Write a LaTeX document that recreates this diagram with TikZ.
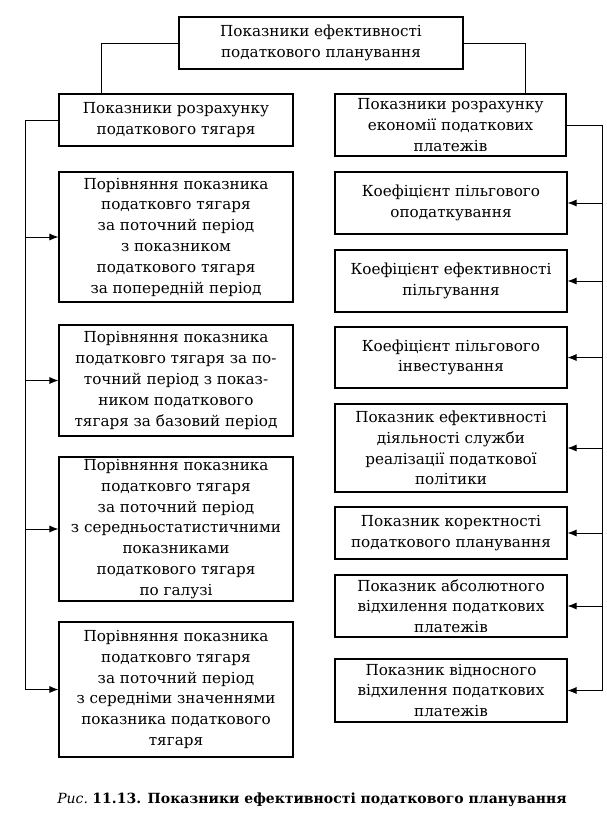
\documentclass[tikz,border=0pt]{standalone}
\usepackage{fontspec}
\setmainfont{DejaVu Serif}
\usetikzlibrary{arrows.meta}
\tikzset{
  box/.style={draw, line width=1.1pt, align=center, inner sep=0pt,
    font=\fontsize{15.2}{20.8}\selectfont},
  lbox/.style={box, minimum width=234pt},
  rbox/.style={box, minimum width=232pt},
  conn/.style={line width=0.9pt},
  arr/.style={conn, -{Latex[length=9pt,width=7pt]}}
}
\begin{document}
\begin{tikzpicture}[x=1pt,y=-1pt]
\useasboundingbox (0,0) rectangle (607,823);
% top
\node[box, minimum width=284pt, minimum height=52pt] (top) at (321,43)
  {Показники ефективності\\податкового планування};
% left column
\node[lbox, minimum height=52pt] (lh) at (176,120)
  {Показники розрахунку\\податкового тягаря};
\node[lbox, minimum height=130pt] (l1) at (176,237)
  {Порівняння показника\\податковго тягаря\\за поточний період\\з показником\\податкового тягаря\\за попередній період};
\node[lbox, minimum height=111pt] (l2) at (176,380.5)
  {Порівняння показника\\податковго тягаря за по-\\точний період з показ-\\ником податкового\\тягаря за базовий період};
\node[lbox, minimum height=144pt] (l3) at (176,529)
  {Порівняння показника\\податковго тягаря\\за поточний період\\з середньостатистичними\\показниками\\податкового тягаря\\по галузі};
\node[lbox, minimum height=135pt] (l4) at (176,689.5)
  {Порівняння показника\\податковго тягаря\\за поточний період\\з середніми значеннями\\показника податкового\\тягаря};
% right column
\node[box, minimum width=231pt, minimum height=62pt] (rh) at (450.5,125)
  {Показники розрахунку\\економії податкових\\платежів};
\node[rbox, minimum height=62pt] (r1) at (451,203)
  {Коефіцієнт пільгового\\оподаткування};
\node[rbox, minimum height=62pt] (r2) at (451,281)
  {Коефіцієнт ефективності\\пільгування};
\node[rbox, minimum height=61pt] (r3) at (451,357.5)
  {Коефіцієнт пільгового\\інвестування};
\node[rbox, minimum height=88pt] (r4) at (451,448)
  {Показник ефективності\\діяльності служби\\реалізації податкової\\політики};
\node[rbox, minimum height=52pt] (r5) at (451,533)
  {Показник коректності\\податкового планування};
\node[rbox, minimum height=62pt] (r6) at (451,606)
  {Показник абсолютного\\відхилення податкових\\платежів};
\node[rbox, minimum height=63pt] (r7) at (451,690.5)
  {Показник відносного\\відхилення податкових\\платежів};
% caption
\node[font=\fontsize{14}{16}\selectfont, inner sep=0pt] (cap) at (312,800)
  {{\itshape Рис.}~\textbf{11.13. Показники ефективності податкового планування}};
% connector coordinates
\coordinate (tl) at (101,0);
\coordinate (tr) at (525,0);
\coordinate (lb) at (25,689.5);
\coordinate (rb) at (602,690.5);
% top connectors
\draw[conn] (top.west) -| (lh.north -| tl);
\draw[conn] (top.east) -| (rh.north -| tr);
% left bus
\draw[conn] (lh.west) -| (lb);
\foreach \n in {l1,l2,l3,l4} \draw[arr] (\n.west -| lb) -- (\n.west);
% right bus
\draw[conn] (rh.east) -| (rb);
\foreach \n in {r1,r2,r3,r4,r5,r6,r7} \draw[arr] (\n.east -| rb) -- (\n.east);
\end{tikzpicture}
\end{document}
